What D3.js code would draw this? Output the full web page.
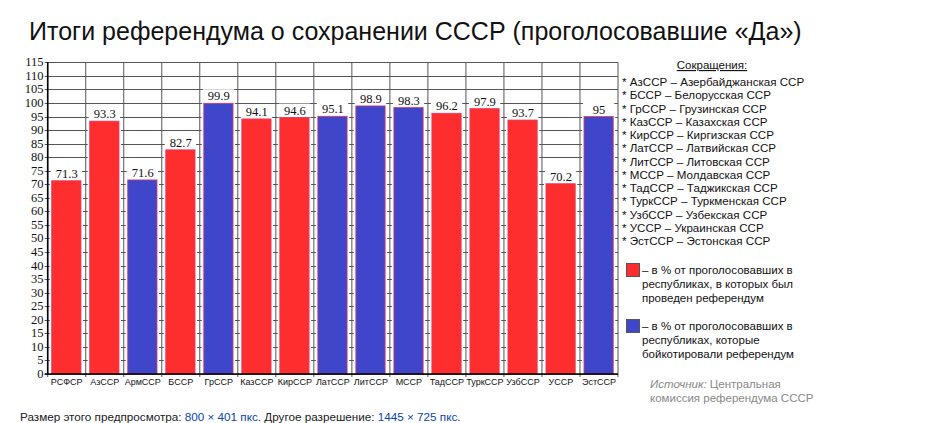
<!DOCTYPE html>
<html><head><meta charset="utf-8">
<script src="https://cdn.jsdelivr.net/npm/d3@7"></script>
<style>
body{margin:0;background:#fff;}
svg{display:block;}
</style></head>
<body>
<svg id="chart" width="933" height="423"></svg>
<script>
const categories = ["РСФСР","АзССР","АрмССР","БССР","ГрССР","КазССР","КирССР","ЛатССР","ЛитССР","МССР","ТадССР","ТуркССР","УзбССР","УССР","ЭстССР"];
const values = [71.3,93.3,71.6,82.7,99.9,94.1,94.6,95.1,98.9,98.3,96.2,97.9,93.7,70.2,95];
const boycotted = [0,0,1,0,1,0,0,1,1,1,0,0,0,0,1];
const valueLabels = ["71.3","93.3","71.6","82.7","99.9","94.1","94.6","95.1","98.9","98.3","96.2","97.9","93.7","70.2","95"];
const yTicks = d3.range(0,116,5);
const abbreviations = [
 "* АзССР – Азербайджанская ССР",
 "* БССР – Белорусская ССР",
 "* ГрССР – Грузинская ССР",
 "* КазССР – Казахская ССР",
 "* КирССР – Киргизская ССР",
 "* ЛатССР – Латвийская ССР",
 "* ЛитССР – Литовская ССР",
 "* МССР – Молдавская ССР",
 "* ТадССР – Таджикская ССР",
 "* ТуркССР – Туркменская ССР",
 "* УзбССР – Узбекская ССР",
 "* УССР – Украинская ССР",
 "* ЭстССР – Эстонская ССР"
];
const legendRed = ["– в % от проголосовавших в","республиках, в которых был","проведен референдум"];
const legendBlue = ["– в % от проголосовавших в","республиках, которые","бойкотировали референдум"];
const title = "Итоги референдума о сохранении СССР (проголосовавшие «Да»)";

const RED = "#ff2e2e", BLUE = "#3f46c9";
const svg = d3.select("#chart");
const L = 47.7, R = 618, T = 62.3, B = 374;
const x = d3.scaleBand().domain(categories).range([L,R]);
const y = d3.scaleLinear().domain([0,115]).range([B,T]);
const bw = x.bandwidth();
const sans = "'Liberation Sans', Arial, sans-serif";
const serif = "'Liberation Serif', 'Times New Roman', serif";

// title
svg.append("text").attr("x",29).attr("y",40).attr("font-family",sans).attr("font-size",25).attr("fill","#111").text(title);

const g = svg.append("g");
// horizontal grid
g.selectAll("line.h").data(yTicks).enter().append("line")
 .attr("x1",L-3).attr("x2",R).attr("y1",d=>Math.round(y(d))+0.5).attr("y2",d=>Math.round(y(d))+0.5)
 .attr("stroke","#555").attr("stroke-width",1);
// vertical grid at band boundaries
const bounds = categories.map(c=>x(c)).concat([R]);
g.selectAll("line.v").data(bounds).enter().append("line")
 .attr("x1",d=>d).attr("x2",d=>d).attr("y1",T).attr("y2",B+3)
 .attr("stroke","#555").attr("stroke-width",1);

// bars
const bars = g.selectAll("g.bar").data(categories).enter().append("g");
bars.append("rect")
 .attr("x",c=>x(c)+bw*0.105-2).attr("width",bw*0.77+4)
 .attr("y",(c,i)=>y(values[i])).attr("height",(c,i)=>B-y(values[i]))
 .attr("fill","#fff");
bars.append("rect")
 .attr("x",c=>x(c)+bw*0.105).attr("width",bw*0.77)
 .attr("y",(c,i)=>y(values[i])).attr("height",(c,i)=>B-y(values[i]))
 .attr("fill",(c,i)=>boycotted[i]?BLUE:RED)
 .attr("stroke","#e23a6a").attr("stroke-width",0.8);
// value labels
bars.append("rect")
 .attr("x",c=>x(c)+bw*0.105-1).attr("width",bw*0.77+2)
 .attr("y",(c,i)=>y(values[i])-14).attr("height",13)
 .attr("fill","#fff");
bars.append("text")
 .attr("x",c=>x(c)+bw/2).attr("y",(c,i)=>y(values[i])-3)
 .attr("text-anchor","middle").attr("font-family",serif).attr("font-size",12.5).attr("fill","#111")
 .text((c,i)=>valueLabels[i]);

// axes lines
g.append("line").attr("x1",L).attr("x2",L).attr("y1",T).attr("y2",B).attr("stroke","#000").attr("stroke-width",1.6);
g.append("line").attr("x1",L-3).attr("x2",R).attr("y1",B).attr("y2",B).attr("stroke","#000").attr("stroke-width",1.6);

// y tick labels
g.selectAll("text.yt").data(yTicks).enter().append("text")
 .attr("x",43.5).attr("y",d=>y(d)+4).attr("text-anchor","end")
 .attr("font-family",serif).attr("font-size",12.5).attr("fill","#111").text(d=>d);

// x labels
g.selectAll("text.xt").data(categories).enter().append("text")
 .attr("x",c=>x(c)+bw/2).attr("y",385).attr("text-anchor","middle")
 .attr("font-family",sans).attr("font-size",9).attr("fill","#111").text(c=>c);

// abbreviations legend
svg.append("text").attr("x",712).attr("y",69).attr("text-anchor","middle")
 .attr("font-family",sans).attr("font-size",11.5).attr("fill","#111")
 .attr("text-decoration","underline").text("Сокращения:");
svg.selectAll("text.ab").data(abbreviations).enter().append("text")
 .attr("x",622).attr("y",(d,i)=>86+i*13.25)
 .attr("font-family",sans).attr("font-size",11.6).attr("fill","#111").text(d=>d);

// color legend
function legendBlock(y0,color,lines){
 svg.append("rect").attr("x",626.5).attr("y",y0-10.5).attr("width",13).attr("height",13)
  .attr("fill",color).attr("stroke","#555").attr("stroke-width",1);
 svg.selectAll(null).data(lines).enter().append("text")
  .attr("x",642).attr("y",(d,i)=>y0+i*14)
  .attr("font-family",sans).attr("font-size",11.5).attr("fill","#111").text(d=>d);
}
legendBlock(274,RED,legendRed);
legendBlock(330,BLUE,legendBlue);

// source
const src = svg.append("text").attr("x",650).attr("y",388).attr("font-family",sans).attr("font-size",11.5).attr("fill","#888");
src.append("tspan").attr("font-style","italic").text("Источник:");
src.append("tspan").text(" Центральная");
svg.append("text").attr("x",650).attr("y",402).attr("font-family",sans).attr("font-size",11.5).attr("fill","#888").text("комиссия референдума СССР");

// footer
const ft = svg.append("text").attr("x",20).attr("y",420.5).attr("font-family",sans).attr("font-size",11.7).attr("fill","#202122");
ft.append("tspan").text("Размер этого предпросмотра: ");
ft.append("tspan").attr("fill","#0645ad").text("800 × 401 пкс");
ft.append("tspan").text(". Другое разрешение: ");
ft.append("tspan").attr("fill","#0645ad").text("1445 × 725 пкс");
ft.append("tspan").text(".");
</script>
</body></html>
